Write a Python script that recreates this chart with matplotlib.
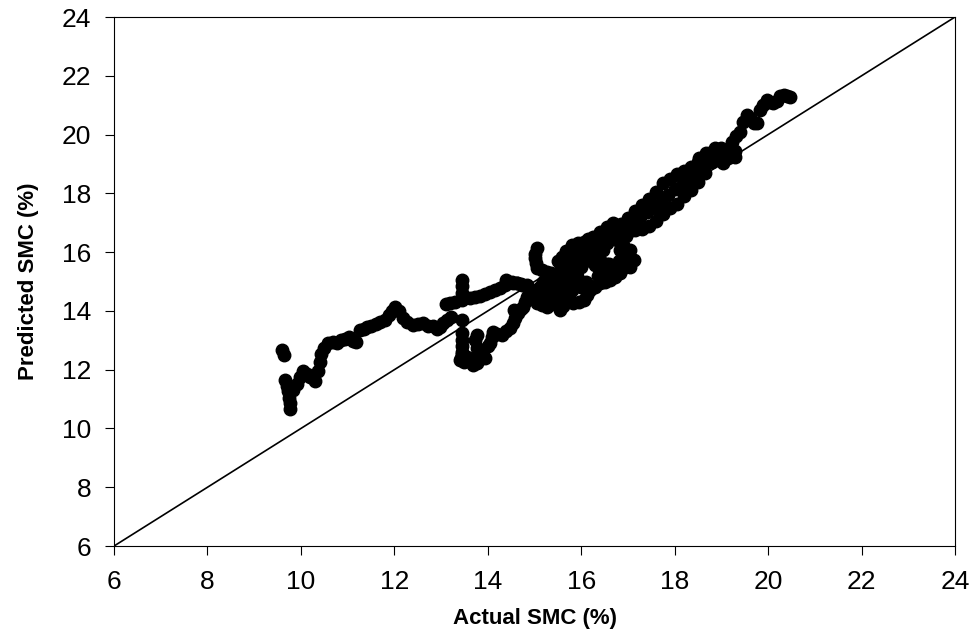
import matplotlib
matplotlib.use("Agg")
import matplotlib.pyplot as plt

plt.rcParams['font.family'] = ['Liberation Sans', 'DejaVu Sans']

# actual vs predicted soil moisture content (%)
left_part = [
    (9.59, 12.67), (9.64, 12.50),
    (9.66, 11.65), (9.70, 11.45), (9.73, 11.28), (9.75, 11.05), (9.77, 10.85), (9.77, 10.65),
    (9.84, 11.30), (9.91, 11.50), (9.98, 11.75), (10.05, 11.95), (10.12, 11.85), (10.20, 11.75),
    (10.30, 11.60), (10.37, 11.95), (10.40, 12.25), (10.42, 12.55), (10.50, 12.75), (10.58, 12.90),
    (10.68, 12.95), (10.78, 12.90), (10.86, 13.00), (10.95, 13.05), (11.03, 13.10), (11.12, 12.98),
    (11.18, 12.95), (11.27, 13.35), (11.35, 13.40), (11.42, 13.46), (11.50, 13.50), (11.60, 13.55),
    (11.70, 13.62), (11.80, 13.70), (11.88, 13.85), (11.95, 14.00), (12.02, 14.12), (12.10, 14.00),
    (12.18, 13.75), (12.28, 13.62), (12.40, 13.52), (12.50, 13.55), (12.62, 13.58), (12.72, 13.50),
    (12.82, 13.48), (12.92, 13.38), (12.98, 13.45), (13.05, 13.60), (13.12, 13.68), (13.22, 13.80),
]

middle_part = [
    (13.10, 14.25), (13.20, 14.28), (13.30, 14.31), (13.45, 14.38), (13.62, 14.45), (13.72, 14.48),
    (13.83, 14.50), (13.95, 14.58), (14.05, 14.65), (14.15, 14.72), (14.26, 14.78), (14.36, 14.88),
    (14.44, 14.94), (14.53, 14.95), (14.62, 14.94), (14.72, 14.90), (14.83, 14.88),
    (13.44, 15.05), (13.44, 14.85), (13.44, 14.60), (13.44, 13.69),
    (13.44, 13.25), (13.44, 13.00), (13.44, 12.80), (13.44, 12.60), (13.42, 12.40),
    (13.40, 12.33), (13.45, 12.55), (13.50, 12.25), (13.55, 12.44), (13.62, 12.30), (13.68, 12.15),
    (13.76, 12.22), (13.80, 12.45), (13.76, 12.75), (13.72, 13.00), (13.76, 13.18), (13.85, 12.60),
    (13.90, 12.67), (13.95, 12.40), (14.00, 12.80), (14.05, 12.90), (14.10, 13.10), (14.12, 13.29),
    (14.20, 13.22), (14.30, 13.18), (14.40, 13.30), (14.48, 13.41), (14.53, 13.60), (14.58, 13.75),
    (14.65, 13.92), (14.70, 14.05), (14.76, 14.14), (14.80, 14.30), (14.83, 14.48), (14.92, 14.58),
    (15.01, 14.65), (15.08, 14.75), (15.12, 14.82), (15.19, 14.99),
]

cluster_part = [
    (14.40, 15.05), (14.52, 15.00), (14.62, 14.94), (14.73, 14.88), (14.83, 14.82), (14.92, 14.70),
    (14.97, 14.60), (15.02, 14.42), (15.05, 14.26), (15.15, 14.20), (15.26, 14.14), (15.33, 14.25),
    (15.40, 14.37), (15.48, 14.20), (15.55, 14.03), (15.62, 14.15), (14.55, 14.03),
    (15.05, 16.13), (15.01, 15.95), (15.01, 15.79), (15.03, 15.62), (15.05, 15.45), (15.15, 15.38),
    (15.26, 15.33), (15.36, 15.28), (15.47, 15.22), (15.55, 15.35), (15.62, 15.50), (15.58, 15.68),
    (15.58, 15.84), (15.68, 16.05), (15.80, 16.24), (15.92, 16.30), (16.05, 16.35), (16.15, 16.45),
    (16.26, 16.52), (16.40, 16.69), (16.55, 16.85), (16.69, 16.98),
    (17.04, 16.07), (17.00, 15.85), (16.97, 15.62), (16.90, 15.45), (16.83, 15.28), (16.72, 15.15),
    (16.62, 15.05), (16.50, 15.00), (16.40, 14.94), (16.30, 14.82), (16.19, 14.71), (16.12, 14.55),
    (16.05, 14.37), (15.95, 14.30), (15.83, 14.26), (15.76, 14.38), (15.69, 14.48),
    (15.33, 14.82), (15.45, 14.90), (15.55, 14.70), (15.69, 14.94), (15.80, 15.00), (15.90, 14.94),
    (16.40, 15.73), (16.30, 15.55), (16.26, 15.96), (16.12, 15.95), (15.97, 15.84), (15.90, 15.65),
    (15.83, 15.50), (15.72, 15.30), (15.60, 15.10), (16.47, 16.07), (16.55, 16.30), (16.69, 15.50),
    (16.55, 15.60), (16.76, 16.41), (16.83, 16.07), (16.90, 16.25), (16.95, 16.55), (17.05, 16.80),
    (16.70, 16.65), (16.50, 15.30), (15.50, 15.70), (15.70, 15.80), (16.35, 15.20),
    (17.12, 15.73), (17.04, 15.50),
    (15.90, 15.20), (15.80, 14.70), (16.00, 14.80), (16.10, 15.00), (16.60, 15.60), (16.80, 15.70),
    (16.40, 15.40), (16.30, 16.20), (16.40, 16.35), (16.60, 16.50), (16.80, 16.80), (15.85, 16.00),
    (16.00, 16.10), (15.75, 15.60), (16.00, 15.50), (16.20, 15.70), (15.50, 14.50), (15.65, 14.70),
    (15.25, 14.60), (15.40, 14.60), (15.20, 14.40), (15.45, 15.05), (16.45, 15.10), (16.65, 15.30),
]

band_part = [
    (16.85, 16.60), (17.00, 16.70), (17.15, 16.75), (17.30, 16.80), (17.45, 16.90), (17.60, 17.05),
    (17.75, 17.30), (17.90, 17.50), (18.05, 17.65), (18.20, 17.90), (18.35, 18.10), (18.50, 18.40),
    (18.65, 18.70), (18.80, 19.05),
    (16.85, 16.95), (17.00, 17.15), (17.15, 17.40), (17.30, 17.60), (17.45, 17.80), (17.60, 18.05),
    (17.75, 18.35), (17.90, 18.50), (18.05, 18.65), (18.20, 18.75), (18.35, 18.90), (18.50, 19.05),
    (18.65, 19.20), (18.80, 19.40),
    (16.95, 16.90), (17.10, 17.05), (17.25, 17.20), (17.40, 17.35), (17.55, 17.50), (17.70, 17.70),
    (17.85, 17.95), (18.00, 18.15), (18.15, 18.30), (18.30, 18.50), (18.45, 18.70), (18.60, 18.90),
]

top_part = [
    (18.86, 19.53), (19.04, 19.02), (19.15, 19.20), (19.22, 19.40), (19.29, 19.25), (19.29, 19.45),
    (19.22, 19.76), (19.32, 19.95), (19.40, 20.10), (19.47, 20.44), (19.54, 20.67), (19.62, 20.55),
    (19.70, 20.40), (19.76, 20.38), (19.83, 20.84), (19.90, 21.00), (19.97, 21.18), (20.04, 21.10),
    (20.11, 21.06), (20.20, 21.15), (20.25, 21.30), (20.33, 21.35), (20.40, 21.32), (20.47, 21.29),
    (18.68, 19.36), (18.51, 19.19), (18.54, 18.91), (19.10, 19.45), (19.00, 19.55), (18.95, 19.30),
]

points = left_part + middle_part + cluster_part + band_part + top_part
actual = [p[0] for p in points]
predicted = [p[1] for p in points]

ticks = [6, 8, 10, 12, 14, 16, 18, 20, 22, 24]

fig = plt.figure(figsize=(9.78, 6.42), dpi=100)
ax = fig.add_axes([0.1166, 0.1495, 0.8599, 0.824])

# 1:1 line
ax.plot([6, 24], [6, 24], color='black', linewidth=1.2, zorder=2)
ax.plot(actual, predicted, linestyle='none', marker='o', markersize=9,
        markerfacecolor='black', markeredgecolor='black', zorder=3)

ax.set_xlim(6, 24)
ax.set_ylim(6, 24)
ax.set_xticks(ticks)
ax.set_yticks(ticks)
ax.tick_params(direction='out', length=6.5, width=0.8, labelsize=19)
ax.tick_params(axis='x', pad=11)
ax.tick_params(axis='y', pad=10)
for sp in ax.spines.values():
    sp.set_linewidth(0.8)

ax.set_xlabel('Actual SMC (%)', fontsize=16, fontweight='bold', labelpad=10)
ax.set_ylabel('Predicted SMC (%)', fontsize=16, fontweight='bold', labelpad=16)

fig.savefig('out.png', dpi=100)
